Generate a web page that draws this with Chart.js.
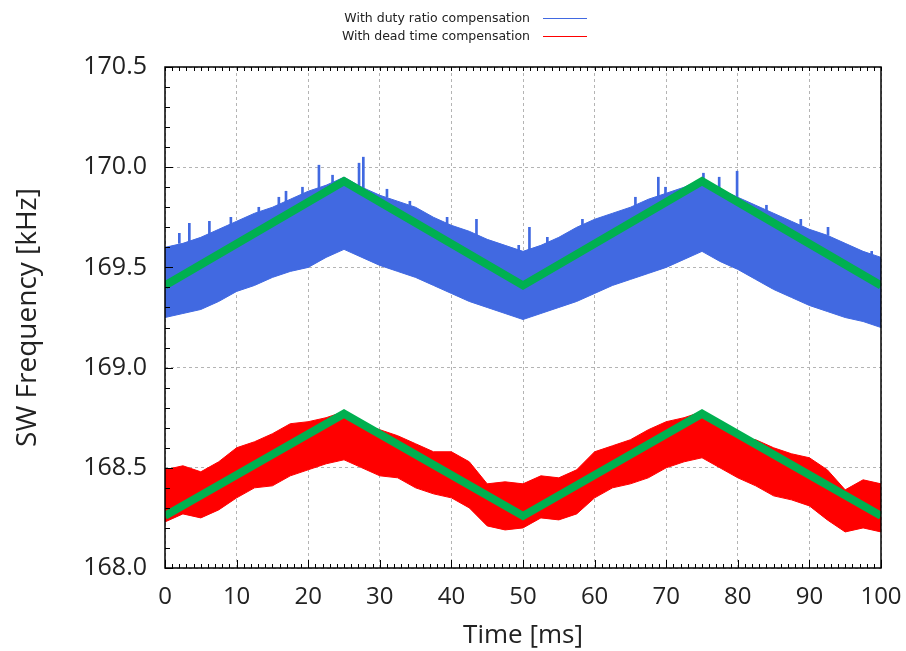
<!DOCTYPE html>
<html>
<head>
<meta charset="utf-8">
<script src="https://cdn.jsdelivr.net/npm/chart.js@4.4.1/dist/chart.umd.min.js"></script>
<style>
  html, body { margin: 0; padding: 0; background: #fff; }
  #wrap { width: 906px; height: 651px; }
</style>
</head>
<body>
<div id="wrap"><canvas id="freqChart" width="906" height="651"></canvas></div>
<script>
// Envelope sample times (ms)
const envTime = [0, 2.5, 5, 7.5, 10, 12.5, 15, 17.5, 20, 22.5, 25, 27.5, 30, 32.5, 35, 37.5, 40, 42.5, 45, 47.5,
                 50, 52.5, 55, 57.5, 60, 62.5, 65, 67.5, 70, 72.5, 75, 77.5, 80, 82.5, 85, 87.5, 90, 92.5, 95, 97.5, 100];

// With duty ratio compensation (blue band), upper / lower edge in kHz
const dutyUpper = [169.60, 169.62, 169.65, 169.69, 169.73, 169.77, 169.80, 169.84, 169.88, 169.91, 169.95, 169.90, 169.86, 169.83, 169.80, 169.75, 169.71, 169.68, 169.64, 169.61,
                   169.58, 169.61, 169.65, 169.70, 169.74, 169.77, 169.80, 169.84, 169.87, 169.90, 169.94, 169.89, 169.85, 169.81, 169.77, 169.73, 169.69, 169.66, 169.62, 169.58, 169.55];
const dutyLower = [169.25, 169.27, 169.29, 169.33, 169.38, 169.41, 169.45, 169.48, 169.50, 169.55, 169.59, 169.55, 169.51, 169.48, 169.45, 169.41, 169.37, 169.33, 169.30, 169.27,
                   169.24, 169.27, 169.30, 169.33, 169.37, 169.41, 169.44, 169.47, 169.50, 169.54, 169.58, 169.53, 169.49, 169.44, 169.39, 169.35, 169.31, 169.28, 169.25, 169.23, 169.20];

// With dead time compensation (red band)
const deadUpper = [168.49, 168.51, 168.48, 168.53, 168.60, 168.63, 168.67, 168.72, 168.73, 168.75, 168.78, 168.72, 168.69, 168.66, 168.62, 168.58, 168.58, 168.53, 168.42, 168.43,
                   168.42, 168.46, 168.45, 168.49, 168.58, 168.61, 168.64, 168.69, 168.73, 168.75, 168.78, 168.71, 168.65, 168.64, 168.60, 168.57, 168.55, 168.49, 168.39, 168.44, 168.42];
const deadLower = [168.23, 168.27, 168.25, 168.29, 168.35, 168.40, 168.41, 168.46, 168.49, 168.52, 168.54, 168.50, 168.46, 168.45, 168.40, 168.37, 168.35, 168.30, 168.21, 168.19,
                   168.20, 168.25, 168.24, 168.27, 168.35, 168.40, 168.42, 168.45, 168.50, 168.53, 168.55, 168.50, 168.45, 168.41, 168.36, 168.34, 168.31, 168.24, 168.18, 168.20, 168.18];

// Isolated spikes above the blue band: time, base, top
const spikeTime = [2.0, 3.4, 6.2, 9.2, 13.1, 15.9, 16.9, 19.2, 21.5, 23.4, 27.1, 27.7, 31.0, 34.2, 39.4, 43.5, 49.4, 50.9,
                   53.4, 58.3, 65.7, 68.9, 69.9, 75.2, 77.4, 79.9, 84.0, 88.8, 92.6, 98.7];
const spikeBase = [169.62, 169.63, 169.66, 169.71, 169.76, 169.80, 169.81, 169.86, 169.89, 169.92, 169.89, 169.88, 169.85, 169.81, 169.72, 169.66, 169.58, 169.59,
                   169.62, 169.71, 169.81, 169.84, 169.86, 169.93, 169.89, 169.85, 169.78, 169.71, 169.66, 169.56];
const spikeTop  = [169.67, 169.72, 169.73, 169.75, 169.80, 169.85, 169.88, 169.90, 170.01, 169.96, 170.02, 170.05, 169.89, 169.83, 169.75, 169.74, 169.61, 169.70,
                   169.65, 169.74, 169.85, 169.95, 169.90, 169.97, 169.95, 169.98, 169.81, 169.74, 169.70, 169.58];

// Reference triangle (green)
const refTime = [0, 25, 50, 75, 100];
const refDuty = [169.41, 169.93, 169.41, 169.93, 169.41];
const refDead = [168.26, 168.77, 168.26, 168.77, 168.26];

const xTicks = [0, 10, 20, 30, 40, 50, 60, 70, 80, 90, 100];
const yTicks = [168.0, 168.5, 169.0, 169.5, 170.0, 170.5];

const BLUE = '#4169E1';
const RED = '#FF0000';
const GREEN = '#00B050';

const pts = (xs, ys) => xs.map((x, i) => ({ x: x, y: ys[i] }));

// legend, frame and inward ticks
const decorations = {
    id: 'decorations',
    afterDraw(chart) {
        const { ctx, chartArea: a } = chart;
        const xs = chart.scales.x, ys = chart.scales.y;
        ctx.save();
        ctx.strokeStyle = '#000';
        ctx.lineWidth = 1;
        ctx.beginPath();
        for (let v = 0; v <= 100; v++) {
            const px = Math.round(xs.getPixelForValue(v)) + 0.5;
            const len = v % 10 === 0 ? 8 : 4;
            ctx.moveTo(px, a.bottom); ctx.lineTo(px, a.bottom - len);
            ctx.moveTo(px, a.top); ctx.lineTo(px, a.top + 4);
        }
        for (let k = 0; k <= 25; k++) {
            const py = Math.round(ys.getPixelForValue(168 + k * 0.1)) + 0.5;
            ctx.moveTo(a.left, py); ctx.lineTo(a.left + (k % 5 === 0 ? 8 : 5), py);
        }
        ctx.stroke();
        ctx.lineWidth = 1.5;
        ctx.strokeRect(a.left, a.top, a.right - a.left, a.bottom - a.top);

        // legend
        ctx.font = '12.5px "DejaVu Sans"';
        ctx.fillStyle = '#222';
        ctx.textAlign = 'right';
        ctx.textBaseline = 'middle';
        const rows = [['With duty ratio compensation', BLUE, 18], ['With dead time compensation', RED, 36]];
        rows.forEach(r => {
            ctx.fillText(r[0], 530, r[2] + 1);
            ctx.strokeStyle = r[1];
            ctx.lineWidth = 1.2;
            ctx.beginPath();
            ctx.moveTo(543, r[2] + 0.5); ctx.lineTo(587, r[2] + 0.5);
            ctx.stroke();
        });
        ctx.restore();
    }
};

const ctx = document.getElementById('freqChart').getContext('2d');
new Chart(ctx, {
    type: 'line',
    data: {
        datasets: [
            { label: 'ref duty', data: pts(refTime, refDuty), borderColor: GREEN, borderWidth: 8, pointRadius: 0, fill: false },
            { label: 'ref dead', data: pts(refTime, refDead), borderColor: GREEN, borderWidth: 8, pointRadius: 0, fill: false },
            {
                type: 'bar', label: 'spikes',
                data: spikeTime.map((t, i) => ({ x: t, y: [spikeBase[i], spikeTop[i]] })),
                backgroundColor: BLUE, barThickness: 2, borderWidth: 0
            },
            { label: 'With duty ratio compensation', data: pts(envTime, dutyUpper), borderColor: BLUE, backgroundColor: BLUE, borderWidth: 1, pointRadius: 0, fill: '+1' },
            { label: 'duty lower', data: pts(envTime, dutyLower), borderColor: BLUE, borderWidth: 1, pointRadius: 0, fill: false },
            { label: 'With dead time compensation', data: pts(envTime, deadUpper), borderColor: RED, backgroundColor: RED, borderWidth: 1, pointRadius: 0, fill: '+1' },
            { label: 'dead lower', data: pts(envTime, deadLower), borderColor: RED, borderWidth: 1, pointRadius: 0, fill: false }
        ]
    },
    options: {
        responsive: false,
        animation: false,
        devicePixelRatio: 1,
        layout: { padding: { top: 67, right: 25, left: 0, bottom: 0 } },
        plugins: { legend: { display: false }, tooltip: { enabled: false } },
        scales: {
            x: {
                type: 'linear', min: 0, max: 100, offset: false,
                afterBuildTicks: s => { s.ticks = xTicks.map(v => ({ value: v })); },
                afterFit: s => { s.height = 83; s.paddingLeft = 0; s.paddingRight = 0; },
                ticks: { color: '#222', font: { family: 'Open Sans', size: 24 }, padding: 15, maxRotation: 0, autoSkip: false },
                grid: { color: '#b4b4b4', lineWidth: 1, drawTicks: false, offset: false },
                border: { display: false, dash: [3, 3] },
                title: { display: true, text: 'Time [ms]', color: '#222', font: { family: 'Open Sans', size: 26 }, padding: { top: 0, bottom: 0 } }
            },
            y: {
                type: 'linear', min: 168, max: 170.5,
                afterBuildTicks: s => { s.ticks = yTicks.map(v => ({ value: v })); },
                afterFit: s => { s.width = 165; s.paddingTop = 0; s.paddingBottom = 0; },
                ticks: { color: '#222', font: { family: 'Open Sans', size: 25 }, padding: 18, callback: v => v.toFixed(1) },
                grid: { color: '#b4b4b4', lineWidth: 1, drawTicks: false },
                border: { display: false, dash: [3, 3] },
                title: { display: true, text: 'SW Frequency [kHz]', color: '#222', font: { family: 'Open Sans', size: 28 }, padding: { top: 11, bottom: 0 } }
            }
        }
    },
    plugins: [decorations]
});
</script>
</body>
</html>
